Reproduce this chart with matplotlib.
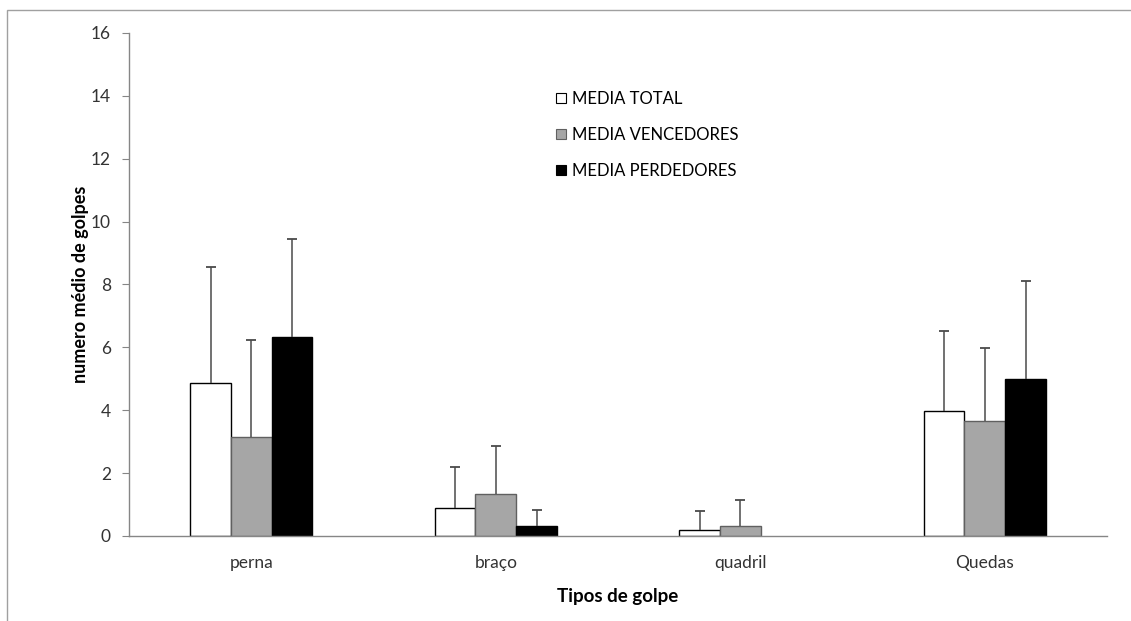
import numpy as np
import matplotlib
matplotlib.use('Agg')
import matplotlib.pyplot as plt
from matplotlib.patches import Rectangle, Patch

plt.rcParams['font.family'] = ['Lato', 'DejaVu Sans']

# data
categories = ['perna', 'braço', 'quadril', 'Quedas']
media_total = [4.88, 0.90, 0.19, 3.98]
media_vencedores = [3.15, 1.33, 0.33, 3.67]
media_perdedores = [6.33, 0.31, 0.0, 4.98]
# upper error bars (only + side drawn)
err_total = [3.68, 1.30, 0.62, 2.55]
err_vencedores = [3.09, 1.53, 0.82, 2.32]
err_perdedores = [3.12, 0.51, 0.0, 3.14]

series_names = ['MEDIA TOTAL', 'MEDIA VENCEDORES', 'MEDIA PERDEDORES']

fig = plt.figure(figsize=(11.31, 6.21), dpi=100)
ax = fig.add_axes([129 / 1131, 1 - 536 / 621, (1107 - 129) / 1131, (536 - 33) / 621])

# outer chart border
fig.patches.append(Rectangle((7 / 1131, -0.1), 1.2, 1 - 10 / 621 + 0.1,
                             transform=fig.transFigure, fill=False,
                             edgecolor='#a0a0a0', linewidth=1))

x = np.arange(len(categories))
w = 1 / 6
series = [
    (media_total, err_total, 'white', 'black'),
    (media_vencedores, err_vencedores, '#a6a6a6', '#606060'),
    (media_perdedores, err_perdedores, 'black', 'black'),
]
for i, (vals, errs, fc, ec) in enumerate(series):
    vals = np.array(vals)
    errs = np.array(errs)
    pos = x + (i - 1) * w
    keep = vals > 0
    ax.bar(pos[keep], vals[keep], width=w, color=fc, edgecolor=ec, linewidth=1.0, zorder=2)
    # only the upper half of the error bar, cap at the top
    ax.vlines(pos[keep], vals[keep], vals[keep] + errs[keep], color='#4a4a4a',
              linewidth=1.1, zorder=3)
    ax.plot(pos[keep], vals[keep] + errs[keep], linestyle='none', marker='_',
            markersize=7.5, markeredgewidth=1.3, color='#4a4a4a', zorder=3)

ax.set_xlim(-0.5, 3.5)
ax.set_ylim(0, 16)
ax.set_yticks(np.arange(0, 17, 2))
ax.set_xticks(x)
ax.set_xticklabels(categories)

for s in ['top', 'right']:
    ax.spines[s].set_visible(False)
for s in ['left', 'bottom']:
    ax.spines[s].set_color('#868686')
    ax.spines[s].set_linewidth(1.0)
ax.tick_params(axis='y', direction='out', length=5, color='#868686',
               labelsize=12.5, labelcolor='#333333', pad=8)
ax.tick_params(axis='x', length=0, labelsize=12.5, labelcolor='#333333', pad=14)

ax.set_ylabel('numero médio de golpes', fontsize=13, fontweight='bold', labelpad=1)
ax.set_xlabel('Tipos de golpe', fontsize=13.5, fontweight='bold', labelpad=12)

handles = [Patch(facecolor=s[2], edgecolor=s[3], linewidth=0.8) for s in series]
ax.legend(handles, series_names, loc='upper left',
          bbox_to_anchor=(556 / 1131, 1 - 91 / 621), bbox_transform=fig.transFigure,
          frameon=False, fontsize=12, handlelength=0.6, handleheight=0.6,
          handletextpad=0.35, labelspacing=1.2, borderpad=0, borderaxespad=0)

fig.savefig('out.png', dpi=100)
